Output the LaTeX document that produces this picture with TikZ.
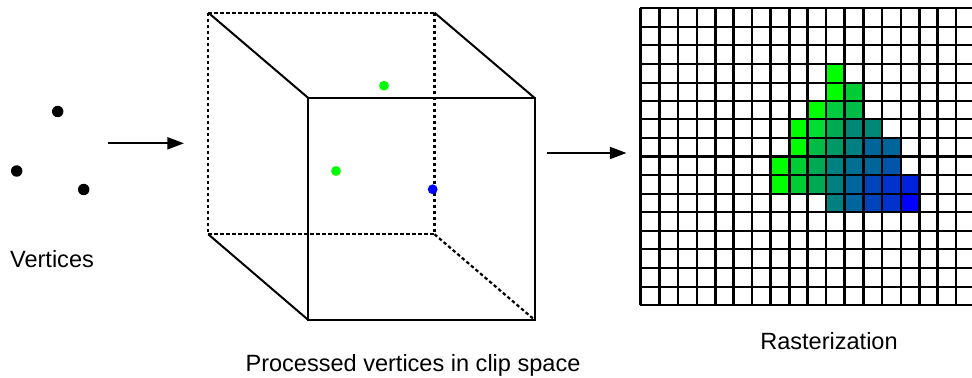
\documentclass[tikz,border=0pt]{standalone}
\usepackage{amssymb, mathtools, amsmath}
\usepackage{fontspec}
\setmainfont{Liberation Sans}
\usetikzlibrary{arrows.meta}

\tikzset{
  gridline/.style={line width=1.65pt},
  cubeline/.style={line width=1.5pt},
  cubehidden/.style={line width=1.65pt,dash pattern=on 2.6pt off 1.9pt},
  flowarrow/.style={line width=1.5pt,-{Triangle[length=12.5pt,width=9pt]}},
  vertexdot/.style={circle,fill=black,inner sep=0pt,minimum size=8.6pt},
  clipdot/.style={circle,inner sep=0pt,minimum size=7.4pt},
  caption/.style={inner sep=0.75pt,font=\fontsize{17.65}{20}\selectfont}
}

\begin{document}
\begin{tikzpicture}[x=0.75pt,y=0.75pt,yscale=-1,xscale=1]
\useasboundingbox (0,0) rectangle (972,378);

%Raster cells, row by row
\fill [color={rgb, 255:red, 0; green, 255; blue, 0 }]   (826,64) rectangle (844.5,82.7) ;

\fill [color={rgb, 255:red, 0; green, 255; blue, 0 }]   (826,82.7) rectangle (844.5,100.7) ;
\fill [color={rgb, 255:red, 0; green, 204; blue, 51 }]   (844.5,82.7) rectangle (863.5,100.7) ;

\fill [color={rgb, 255:red, 0; green, 255; blue, 0 }]   (807.5,100.7) rectangle (826,119.3) ;
\fill [color={rgb, 255:red, 0; green, 204; blue, 64 }]   (826,100.7) rectangle (844.5,119.3) ;
\fill [color={rgb, 255:red, 0; green, 187; blue, 72 }]   (844.5,100.7) rectangle (863.5,119.3) ;

\fill [color={rgb, 255:red, 0; green, 255; blue, 0 }]   (789.5,119.3) rectangle (807.5,138) ;
\fill [color={rgb, 255:red, 0; green, 221; blue, 51 }]   (807.5,119.3) rectangle (826,138) ;
\fill [color={rgb, 255:red, 0; green, 170; blue, 85 }]   (826,119.3) rectangle (844.5,138) ;
\fill [color={rgb, 255:red, 0; green, 136; blue, 119 }]   (844.5,119.3) rectangle (863.5,138) ;
\fill [color={rgb, 255:red, 0; green, 136; blue, 119 }]   (863.5,119.3) rectangle (882,138) ;

\fill [color={rgb, 255:red, 0; green, 255; blue, 0 }]   (789.5,138) rectangle (807.5,156.6) ;
\fill [color={rgb, 255:red, 0; green, 187; blue, 68 }]   (807.5,138) rectangle (826,156.6) ;
\fill [color={rgb, 255:red, 0; green, 153; blue, 102 }]   (826,138) rectangle (844.5,156.6) ;
\fill [color={rgb, 255:red, 0; green, 128; blue, 128 }]   (844.5,138) rectangle (863.5,156.6) ;
\fill [color={rgb, 255:red, 0; green, 102; blue, 153 }]   (863.5,138) rectangle (882,156.6) ;
\fill [color={rgb, 255:red, 0; green, 102; blue, 153 }]   (882,138) rectangle (901,156.6) ;

\fill [color={rgb, 255:red, 0; green, 255; blue, 0 }]   (770.5,156.6) rectangle (789.5,175.2) ;
\fill [color={rgb, 255:red, 0; green, 204; blue, 51 }]   (789.5,156.6) rectangle (807.5,175.2) ;
\fill [color={rgb, 255:red, 0; green, 170; blue, 85 }]   (807.5,156.6) rectangle (826,175.2) ;
\fill [color={rgb, 255:red, 0; green, 128; blue, 128 }]   (826,156.6) rectangle (844.5,175.2) ;
\fill [color={rgb, 255:red, 0; green, 110; blue, 144 }]   (844.5,156.6) rectangle (863.5,175.2) ;
\fill [color={rgb, 255:red, 0; green, 102; blue, 153 }]   (863.5,156.6) rectangle (882,175.2) ;
\fill [color={rgb, 255:red, 0; green, 85; blue, 170 }]   (882,156.6) rectangle (901,175.2) ;

\fill [color={rgb, 255:red, 0; green, 255; blue, 0 }]   (770.5,175.2) rectangle (789.5,193.8) ;
\fill [color={rgb, 255:red, 0; green, 204; blue, 51 }]   (789.5,175.2) rectangle (807.5,193.8) ;
\fill [color={rgb, 255:red, 0; green, 170; blue, 85 }]   (807.5,175.2) rectangle (826,193.8) ;
\fill [color={rgb, 255:red, 0; green, 128; blue, 128 }]   (826,175.2) rectangle (844.5,193.8) ;
\fill [color={rgb, 255:red, 0; green, 102; blue, 160 }]   (844.5,175.2) rectangle (863.5,193.8) ;
\fill [color={rgb, 255:red, 0; green, 68; blue, 187 }]   (863.5,175.2) rectangle (882,193.8) ;
\fill [color={rgb, 255:red, 0; green, 51; blue, 204 }]   (882,175.2) rectangle (901,193.8) ;
\fill [color={rgb, 255:red, 0; green, 34; blue, 221 }]   (901,175.2) rectangle (919.5,193.8) ;

\fill [color={rgb, 255:red, 0; green, 128; blue, 128 }]   (826,193.8) rectangle (844.5,212) ;
\fill [color={rgb, 255:red, 0; green, 102; blue, 160 }]   (844.5,193.8) rectangle (863.5,212) ;
\fill [color={rgb, 255:red, 0; green, 68; blue, 187 }]   (863.5,193.8) rectangle (882,212) ;
\fill [color={rgb, 255:red, 0; green, 51; blue, 204 }]   (882,193.8) rectangle (901,212) ;
\fill [color={rgb, 255:red, 0; green, 0; blue, 255 }]   (901,193.8) rectangle (919.5,212) ;

%Straight Lines: raster columns
\draw [gridline]   (640.5,8) -- (640.5,305.3) ;
\draw [gridline]   (659.5,8) -- (659.5,305.3) ;
\draw [gridline]   (678,8) -- (678,305.3) ;
\draw [gridline]   (697,8) -- (697,305.3) ;
\draw [gridline]   (715.5,8) -- (715.5,305.3) ;
\draw [gridline]   (733.5,8) -- (733.5,305.3) ;
\draw [gridline]   (752,8) -- (752,305.3) ;
\draw [gridline]   (770.5,8) -- (770.5,305.3) ;
\draw [gridline]   (789.5,8) -- (789.5,305.3) ;
\draw [gridline]   (807.5,8) -- (807.5,305.3) ;
\draw [gridline]   (826,8) -- (826,305.3) ;
\draw [gridline]   (844.5,8) -- (844.5,305.3) ;
\draw [gridline]   (863.5,8) -- (863.5,305.3) ;
\draw [gridline]   (882,8) -- (882,305.3) ;
\draw [gridline]   (901,8) -- (901,305.3) ;
\draw [gridline]   (919.5,8) -- (919.5,305.3) ;
\draw [gridline]   (937.5,8) -- (937.5,305.3) ;
\draw [gridline]   (956,8) -- (956,305.3) ;

%Straight Lines: raster rows
\draw [gridline]   (640,8) -- (972,8) ;
\draw [gridline]   (640,26.7) -- (972,26.7) ;
\draw [gridline]   (640,45.3) -- (972,45.3) ;
\draw [gridline]   (640,64) -- (972,64) ;
\draw [gridline]   (640,82.7) -- (972,82.7) ;
\draw [gridline]   (640,100.7) -- (972,100.7) ;
\draw [gridline]   (640,119.3) -- (972,119.3) ;
\draw [gridline]   (640,138) -- (972,138) ;
\draw [gridline]   (640,156.6) -- (972,156.6) ;
\draw [gridline]   (640,175.2) -- (972,175.2) ;
\draw [gridline]   (640,193.8) -- (972,193.8) ;
\draw [gridline]   (640,212) -- (972,212) ;
\draw [gridline]   (640,230.7) -- (972,230.7) ;
\draw [gridline]   (640,249.3) -- (972,249.3) ;
\draw [gridline]   (640,268) -- (972,268) ;
\draw [gridline]   (640,286.7) -- (972,286.7) ;
\draw [gridline]   (640,305.3) -- (972,305.3) ;

%Cube corners
\coordinate (backTL) at (208.3,12.7);
\coordinate (backTR) at (434.5,12.7);
\coordinate (backBL) at (208.3,234.3);
\coordinate (backBR) at (434.5,234.3);
\coordinate (frontTL) at (308.3,98);
\coordinate (frontTR) at (534.7,98);
\coordinate (frontBL) at (308.3,320);
\coordinate (frontBR) at (534.7,320);

%Straight Lines: hidden edges
\draw [cubehidden]   (backTL) -- (backTR) ;
\draw [cubehidden]   (backTL) -- (backBL) ;
\draw [cubehidden]   (backTR) -- (backBR) ;
\draw [cubehidden]   (backBL) -- (backBR) ;
\draw [cubehidden]   (backBR) -- (frontBR) ;
%Straight Lines: visible edges
\draw [cubeline]   (frontTL) -- (frontTR) -- (frontBR) -- (frontBL) -- cycle ;
\draw [cubeline]   (backTL) -- (frontTL) ;
\draw [cubeline]   (backTR) -- (frontTR) ;
\draw [cubeline]   (backBL) -- (frontBL) ;

%Vertices
\node [vertexdot] (vertexA) at (57.7,111.5) {};
\node [vertexdot] (vertexB) at (16.7,171) {};
\node [vertexdot] (vertexC) at (83.7,189.5) {};
\node [clipdot,fill={rgb, 255:red, 0; green, 255; blue, 0 }] (clipA) at (384,85.7) {};
\node [clipdot,fill={rgb, 255:red, 0; green, 255; blue, 0 }] (clipB) at (336,171) {};
\node [clipdot,fill={rgb, 255:red, 0; green, 0; blue, 255 }] (clipC) at (432.7,189.3) {};

%Arrows
\coordinate (vertexOut) at (108,143.3);
\coordinate (cubeIn) at (184,143.3);
\coordinate (cubeOut) at (546.5,153);
\coordinate (rasterIn) at (626.5,153);
\draw [flowarrow]   (vertexOut) -- (cubeIn) ;
\draw [flowarrow]   (cubeOut) -- (rasterIn) ;

% Text Node
\node [caption] (vertexLabel) at (52,259) {Vertices};
% Text Node
\node [caption] (clipLabel) at (413,365.5) {Processed vertices in clip space};
% Text Node
\node [caption] (rasterLabel) at (829,341) {Rasterization};

\end{tikzpicture}
\end{document}
